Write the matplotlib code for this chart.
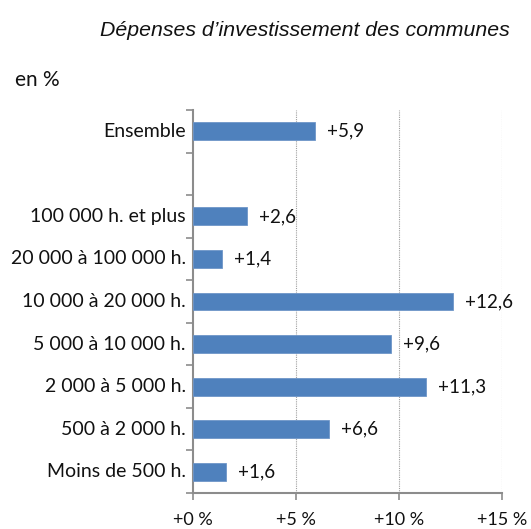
import matplotlib.pyplot as plt
import numpy as np

# données (de haut en bas)
categories = ["Ensemble", "", "100 000 h. et plus", "20 000 à 100 000 h.",
              "10 000 à 20 000 h.", "5 000 à 10 000 h.", "2 000 à 5 000 h.",
              "500 à 2 000 h.", "Moins de 500 h."]
values = [5.9, np.nan, 2.6, 1.4, 12.6, 9.6, 11.3, 6.6, 1.6]
labels = ["+5,9", "", "+2,6", "+1,4", "+12,6", "+9,6", "+11,3", "+6,6", "+1,6"]
xticks = [0, 5, 10, 15]
xtick_labels = ["+0 %", "+5 %", "+10 %", "+15 %"]

FONT = "Lato"
BAR_COLOR = "#4f81bd"
AXIS_COLOR = "#8c8c8c"
TXT = "#111111"

fig = plt.figure(figsize=(5.31, 5.29), dpi=100)
ax = fig.add_axes([193 / 531, 1 - 493 / 529, (502 - 193) / 531, (493 - 110) / 529])

n = len(categories)
y = np.arange(n)[::-1]
vals = np.array(values, dtype=float)
mask = ~np.isnan(vals)
ax.barh(y[mask], vals[mask], height=0.42, color=BAR_COLOR,
        edgecolor="#6f96c8", linewidth=0.6, zorder=3)

for yi, v, lab in zip(y, vals, labels):
    if np.isnan(v):
        continue
    ax.text(v + 0.6, yi, lab, va="center", ha="left", fontsize=13.5,
            family=FONT, color=TXT)

# libellés des catégories
for yi, cat in zip(y, categories):
    if cat:
        ax.text(-0.35, yi, cat, va="center", ha="right", fontsize=14,
                family=FONT, color=TXT)

ax.set_xlim(0, 15)
ax.set_ylim(-0.5, n - 0.5)
ax.set_xticks(xticks)
ax.set_xticklabels(xtick_labels, family=FONT, fontsize=13, color=TXT)
ax.set_yticks(np.arange(-0.5, n, 1.0))
ax.set_yticklabels([])
ax.tick_params(axis="y", length=5, width=1.2, color=AXIS_COLOR, direction="out")
ax.tick_params(axis="x", length=5, width=1.2, color=AXIS_COLOR, direction="out", pad=9)

for x in xticks[1:]:
    ax.axvline(x, color="#a0a0a0", linestyle=(0, (1, 1)), linewidth=0.8, zorder=1)

for s in ["top", "right"]:
    ax.spines[s].set_visible(False)
for s in ["left", "bottom"]:
    ax.spines[s].set_color(AXIS_COLOR)
    ax.spines[s].set_linewidth(1.5)

fig.text(510 / 531, 1 - 30 / 529, "Dépenses d\u2019investissement des communes",
         ha="right", va="center", fontsize=15.3, style="italic",
         family="Liberation Sans", color=TXT)
fig.text(15 / 531, 1 - 80 / 529, "en %", ha="left", va="center", fontsize=15,
         family=FONT, color=TXT)

fig.savefig("out.png", dpi=100)
